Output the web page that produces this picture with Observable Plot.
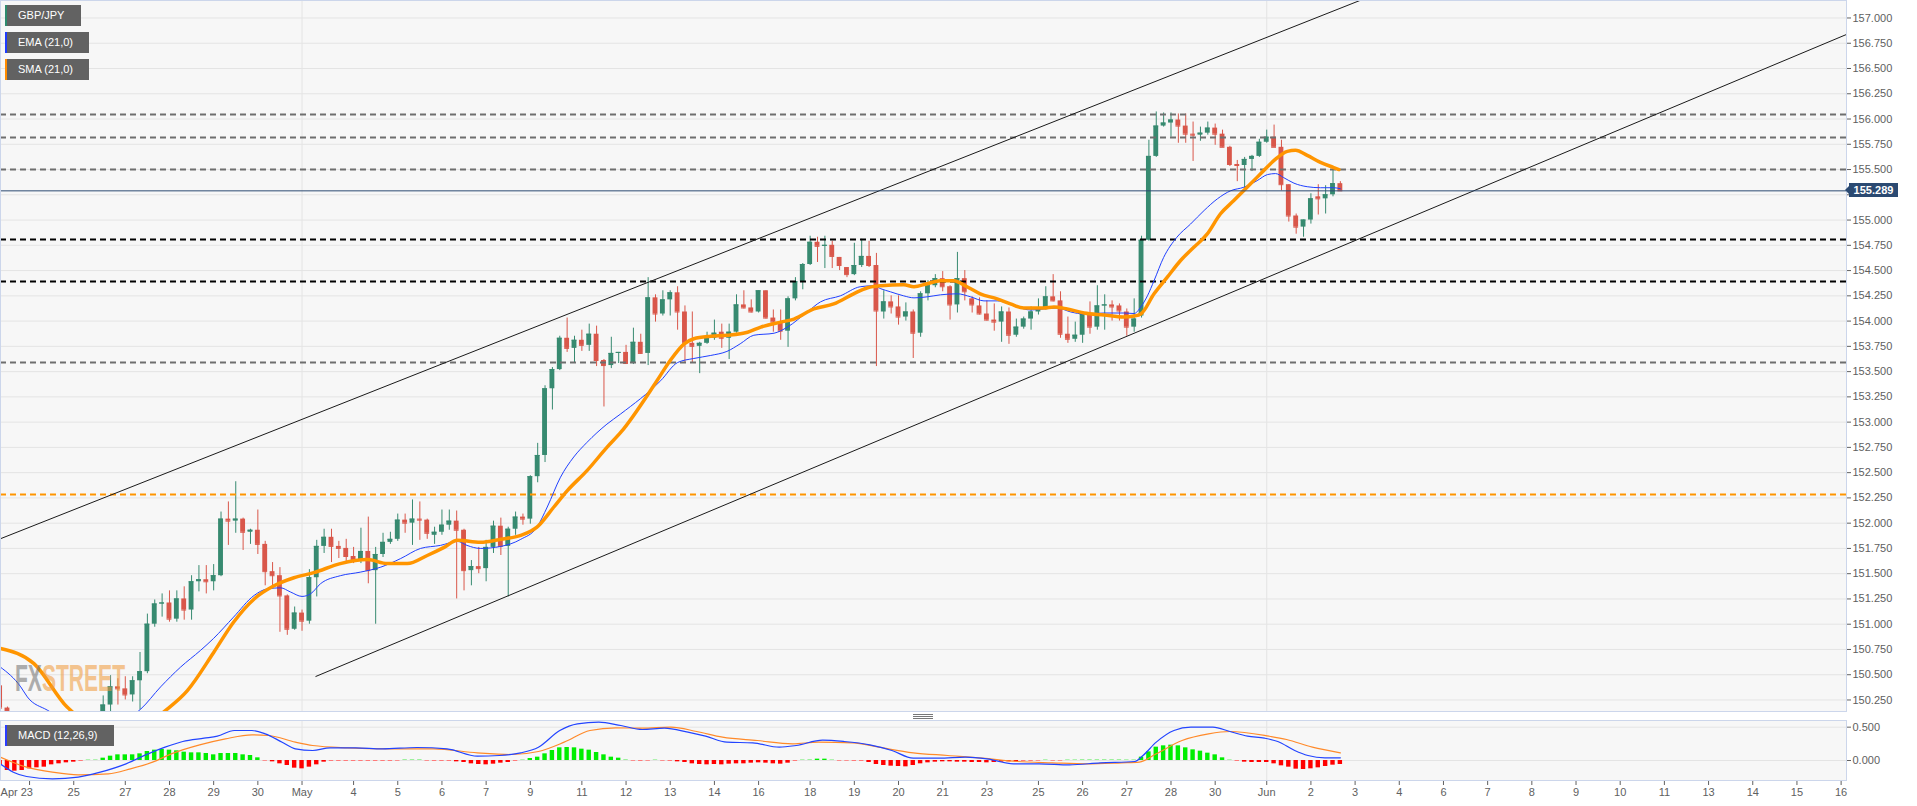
<!DOCTYPE html>
<html><head><meta charset="utf-8">
<script src="https://cdn.jsdelivr.net/npm/d3@7"></script>
<script src="https://cdn.jsdelivr.net/npm/@observablehq/plot@0.6"></script>
<style>
body{margin:0;background:#fff;font-family:"Liberation Sans",Arial,sans-serif}
#wrap{position:relative;width:1917px;height:806px;overflow:hidden;background:#fff}
.tag{position:absolute;height:21px;background:#626262;color:#fff;font-size:11px;line-height:21px;padding-left:11px;box-sizing:border-box;border-left:2px solid #000}
.ptag{position:absolute;left:1849px;width:49px;height:14px;background:#2b4a72;color:#fff;font-size:11px;font-weight:bold;line-height:14px;text-align:center}
.ptag:before{content:"";position:absolute;left:-4px;top:3px;border-top:4px solid transparent;border-bottom:4px solid transparent;border-right:4px solid #2b4a72}
.handle{position:absolute;left:913px;width:20px;height:1px;background:#777}
#wm{position:absolute;left:15px;top:661px;font:bold 36px "Liberation Sans",Arial,sans-serif;line-height:36px;white-space:nowrap;opacity:0.55;transform-origin:0 0}
</style></head><body><div id="wrap"></div>
<script>
// ---- Candles (4h bars, index 0..182) ----
const opens = [
150.39,150.17,150.00,149.85,149.75,149.85,149.78,149.70,149.80,149.95,
149.90,149.95,150.00,149.98,150.05,150.20,150.38,150.36,150.30,150.44,
150.53,151.00,151.20,151.21,151.05,151.25,151.14,151.42,151.44,151.42,
151.48,152.04,152.02,152.04,151.91,151.93,151.79,151.52,151.48,151.28,
150.95,151.11,151.03,151.46,151.77,151.86,151.77,151.75,151.67,151.64,
151.72,151.53,151.69,151.81,151.84,152.03,152.00,152.04,152.03,151.88,
151.91,151.98,152.02,151.93,151.53,151.57,151.55,151.76,151.97,151.77,
151.94,152.06,152.04,152.46,152.67,153.33,153.52,153.83,153.73,153.81,
153.76,153.87,153.61,153.56,153.68,153.69,153.58,153.79,153.68,154.23,
154.07,154.21,154.28,154.09,153.78,153.75,153.78,153.83,153.89,153.83,
153.89,154.16,154.13,154.09,154.30,154.03,153.99,153.90,154.22,154.39,
154.56,154.78,154.74,154.75,154.63,154.53,154.46,154.55,154.64,154.55,
154.09,154.19,154.14,154.04,154.09,153.88,154.27,154.35,154.42,154.34,
154.16,154.42,154.22,154.15,154.07,154.01,153.99,154.09,153.86,153.94,
154.02,154.09,154.12,154.24,154.20,153.87,153.82,153.86,154.07,153.94,
154.15,154.16,154.15,154.09,153.94,154.05,154.80,155.63,155.93,155.96,
155.99,155.93,155.85,155.84,155.86,155.91,155.85,155.72,155.55,155.54,
155.60,155.63,155.77,155.82,155.72,155.35,155.04,154.93,155.00,155.23,
155.21,155.25,155.36];
const highs = [
150.45,150.18,150.05,149.95,149.90,149.98,149.90,149.85,150.00,150.05,
150.00,150.08,150.10,150.10,150.29,150.49,150.46,150.48,150.48,150.72,
151.10,151.24,151.30,151.33,151.33,151.37,151.48,151.58,151.58,151.59,
152.11,152.21,152.41,152.05,151.94,152.13,151.82,151.61,151.56,151.29,
151.17,151.14,151.54,151.83,151.94,151.94,151.82,151.84,151.76,151.95,
152.06,151.76,151.90,151.91,152.09,152.09,152.23,152.21,152.04,151.96,
152.13,152.13,152.12,151.94,151.63,151.76,151.83,152.02,152.05,151.96,
152.11,152.09,152.47,152.79,153.36,153.54,153.85,154.03,153.85,153.91,
153.97,153.95,153.62,153.84,153.69,153.76,153.93,153.87,154.43,154.26,
154.30,154.30,154.34,154.15,154.09,153.79,153.89,154.01,153.97,153.97,
154.26,154.30,154.21,154.30,154.30,154.11,154.11,154.24,154.43,154.57,
154.84,154.83,154.84,154.79,154.63,154.53,154.77,154.81,154.79,154.67,
154.30,154.25,154.25,154.18,154.11,154.29,154.40,154.46,154.49,154.35,
154.68,154.50,154.24,154.23,154.20,154.17,154.14,154.13,154.02,154.04,
154.14,154.22,154.34,154.46,154.29,154.04,153.99,154.09,154.19,154.35,
154.26,154.20,154.17,154.12,154.22,154.84,155.79,156.07,156.06,156.06,
156.05,156.05,155.97,155.92,155.97,155.95,155.89,155.73,155.59,155.62,
155.64,155.80,155.89,155.94,155.79,155.35,155.06,155.00,155.26,155.35,
155.34,155.51,155.38];
const lows = [
150.10,149.90,149.80,149.70,149.65,149.70,149.60,149.60,149.75,149.85,
149.80,149.88,149.90,149.90,149.95,150.13,150.20,150.25,150.23,150.15,
150.51,150.97,151.07,151.02,151.02,151.04,151.04,151.32,151.30,151.33,
151.47,151.78,151.90,151.73,151.79,151.69,151.38,151.38,150.92,150.89,
150.94,150.93,151.00,151.27,151.70,151.61,151.65,151.61,151.60,151.60,
151.40,151.00,151.66,151.79,151.82,151.90,151.78,151.83,151.84,151.79,
151.88,151.93,151.25,151.33,151.38,151.50,151.42,151.70,151.68,151.27,
151.88,151.98,151.99,152.40,152.60,153.12,153.51,153.69,153.58,153.70,
153.70,153.55,153.15,153.53,153.58,153.57,153.57,153.67,153.56,153.99,
154.05,154.05,153.91,153.59,153.59,153.48,153.77,153.81,153.73,153.62,
153.88,154.12,154.08,154.08,154.02,153.89,153.81,153.74,154.20,154.31,
154.55,154.58,154.52,154.52,154.50,154.43,154.45,154.53,154.53,153.55,
154.02,154.07,153.96,154.00,153.63,153.84,154.20,154.33,154.29,154.01,
154.08,154.20,154.08,154.06,154.00,153.90,153.79,153.77,153.84,153.92,
153.91,154.06,154.11,154.19,153.83,153.78,153.79,153.78,153.87,153.91,
153.91,154.00,154.00,153.85,153.89,154.03,154.79,155.62,155.92,155.82,
155.76,155.76,155.58,155.78,155.84,155.74,155.72,155.53,155.38,155.29,
155.48,155.62,155.76,155.72,155.29,154.98,154.86,154.83,154.96,155.05,
155.06,155.23,155.29];
const closes = [
150.17,150.00,149.85,149.75,149.85,149.78,149.70,149.80,149.95,149.90,
149.95,150.00,149.98,150.05,150.20,150.38,150.36,150.30,150.44,150.53,
151.00,151.20,151.21,151.05,151.25,151.14,151.42,151.44,151.42,151.48,
152.04,152.02,152.04,151.91,151.93,151.79,151.52,151.48,151.28,150.95,
151.11,151.03,151.46,151.77,151.86,151.77,151.75,151.67,151.64,151.72,
151.53,151.69,151.81,151.84,152.03,152.00,152.04,152.03,151.90,151.91,
151.98,152.02,151.93,151.53,151.57,151.55,151.76,151.97,151.77,151.94,
152.06,152.04,152.46,152.67,153.33,153.52,153.83,153.73,153.81,153.76,
153.87,153.61,153.56,153.68,153.69,153.58,153.79,153.68,154.23,154.07,
154.21,154.28,154.09,153.78,153.75,153.78,153.83,153.88,153.83,153.89,
154.16,154.13,154.09,154.30,154.03,153.99,153.90,154.22,154.39,154.56,
154.78,154.74,154.75,154.64,154.55,154.46,154.55,154.64,154.55,154.10,
154.19,154.14,154.04,154.09,153.88,154.27,154.35,154.42,154.34,154.16,
154.42,154.29,154.16,154.07,154.01,153.99,154.09,153.86,153.94,154.02,
154.09,154.12,154.24,154.20,153.87,153.82,153.86,154.07,153.94,154.15,
154.16,154.14,154.10,153.94,154.02,154.80,155.63,155.93,155.96,155.99,
155.93,155.85,155.84,155.86,155.91,155.85,155.72,155.55,155.54,155.60,
155.63,155.77,155.82,155.72,155.35,155.04,154.93,155.00,155.21,155.21,
155.25,155.36,155.289];
const lastPrice = 155.289;

// ---- Indicators: [bar index, value] ----
const emaPoints = [[0.05,150.575],[2.8,150.38],[3.7,150.28],[6.4,150.15],[10,150.02],[14,149.98],[19.1,150.16],[21.8,150.38],[24.5,150.575],[27.2,150.74],[29.0,150.86],[31.7,151.07],[34.5,151.285],[36.3,151.35],[38.1,151.36],[39.4,151.32],[41.0,151.275],[42.15,151.30],[43.5,151.40],[46.2,151.48],[48.9,151.515],[51.7,151.565],[54.4,151.65],[57.1,151.75],[59.8,151.78],[62.1,151.82],[63.4,151.78],[65.2,151.75],[68.0,151.77],[70.7,151.84],[72.9,151.96],[74.3,152.16],[76.1,152.455],[77.9,152.655],[79.7,152.80],[82.4,152.98],[84.25,153.08],[89.7,153.41],[92.0,153.59],[94.2,153.63],[96.5,153.66],[98.7,153.70],[100.5,153.775],[102.35,153.86],[105.1,153.88],[106.9,153.94],[109.6,154.09],[111.4,154.19],[114.1,154.25],[116.8,154.34],[118.65,154.35],[119.6,154.32],[120.9,154.29],[122.7,154.25],[124.1,154.23],[125.9,154.24],[127.7,154.26],[130.0,154.27],[131.8,154.24],[133.6,154.20],[135.4,154.20],[138.1,154.14],[139.9,154.11],[141.7,154.12],[143.55,154.13],[145.4,154.09],[147.2,154.07],[149.9,154.08],[152.6,154.08],[154.0,154.075],[154.9,154.14],[155.8,154.25],[156.7,154.40],[158.0,154.63],[159.8,154.83],[161.65,154.96],[163.5,155.095],[165.3,155.21],[167.1,155.29],[168.9,155.325],[170.7,155.39],[172.1,155.45],[173.2,155.46],[174.3,155.42],[175.7,155.365],[177.5,155.33],[179.3,155.32],[181.1,155.32],[182.0,155.31]];
const smaPoints = [[0.05,150.76],[4.6,150.61],[9.1,150.18],[12,150.02],[16,149.95],[20,150.0],[22.2,150.13],[25.4,150.34],[29.0,150.72],[31.7,151.02],[34.5,151.25],[37.2,151.38],[39.9,151.46],[42.6,151.51],[46.2,151.60],[49.9,151.64],[52.6,151.60],[55.3,151.60],[58.0,151.68],[60.3,151.76],[62.1,151.83],[65.2,151.81],[68.0,151.84],[70.7,151.88],[72.9,151.96],[75.2,152.16],[77.0,152.32],[79.7,152.52],[82.4,152.75],[84.3,152.90],[89.2,153.41],[91.0,153.61],[92.9,153.775],[94.2,153.825],[96.5,153.85],[98.7,153.86],[101.5,153.89],[103.3,153.94],[106.0,153.99],[107.8,154.02],[110.5,154.12],[113.2,154.17],[115.9,154.27],[117.8,154.33],[119.6,154.35],[122.7,154.36],[124.1,154.34],[125.9,154.37],[127.7,154.40],[129.5,154.40],[131.3,154.34],[133.1,154.27],[135.4,154.22],[137.2,154.17],[139.0,154.13],[141.7,154.13],[143.1,154.14],[144.9,154.12],[147.2,154.08],[149.9,154.06],[152.6,154.04],[154.0,154.05],[154.9,154.07],[156.7,154.27],[158.5,154.435],[160.3,154.60],[162.1,154.73],[163.9,154.86],[165.7,155.06],[167.5,155.19],[169.4,155.33],[171.2,155.46],[173.0,155.59],[174.8,155.68],[175.9,155.69],[177.5,155.64],[179.3,155.57],[181.1,155.52],[181.8,155.50]];

// ---- Drawn levels and channel ----
const levelsGray = [156.045, 155.817, 155.50, 153.59];
const levelsBlack = [154.808, 154.392];
const levelsOrange = [152.284];
const channelUpper = [[0.054, 151.846], [250.73, 159.08]];
const channelLower = [[42.88, 150.483], [250.73, 156.837]];

// ---- MACD (12,26,9) ----
const macdPoints = [[0,-0.05],[1.8,-0.175],[3.6,-0.24],[7.1,-0.275],[10.6,-0.25],[13.6,-0.175],[17.1,-0.05],[20.1,0.1],[22.4,0.2],[24.8,0.285],[27.7,0.335],[29.5,0.365],[31.8,0.45],[34.2,0.45],[36.0,0.40],[38.3,0.275],[40.1,0.175],[42.45,0.15],[44.8,0.19],[48.3,0.19],[51.9,0.175],[56.6,0.195],[60.7,0.175],[64.8,0.065],[67.8,0.075],[70.7,0.115],[73.1,0.2],[76.0,0.45],[78.4,0.55],[81.3,0.575],[84.3,0.525],[87.2,0.465],[90.2,0.485],[93.4,0.425],[95.8,0.365],[98.7,0.275],[102.2,0.265],[105.8,0.2],[108.1,0.225],[111.7,0.305],[114.6,0.285],[118.1,0.235],[121.1,0.15],[124.0,0.035],[127.5,0.035],[131.1,0.05],[134.0,0.025],[137.6,-0.05],[141.1,-0.05],[145.2,-0.065],[149.4,-0.035],[154.1,-0.015],[155.2,0.075],[157.0,0.275],[159.4,0.45],[161.7,0.5],[164.7,0.5],[167.0,0.435],[169.4,0.365],[171.7,0.335],[173.5,0.285],[175.8,0.15],[177.6,0.075],[179.9,0.04],[182.0,0.04]];
const signalPoints = [[0,0.05],[3.6,-0.10],[7.1,-0.175],[10.6,-0.215],[14.7,-0.20],[17.7,-0.125],[20.7,-0.025],[23.6,0.115],[27.1,0.235],[30.6,0.325],[34.2,0.385],[36.5,0.375],[40.1,0.275],[42.45,0.225],[47.2,0.19],[53.0,0.175],[58.9,0.175],[64.8,0.115],[69.5,0.09],[73.1,0.135],[76.6,0.275],[80.1,0.45],[83.6,0.49],[87.2,0.485],[91.05,0.5],[94.6,0.435],[98.1,0.35],[102.8,0.3],[107.6,0.25],[111.1,0.275],[115.8,0.265],[119.3,0.2],[124.0,0.115],[128.7,0.075],[133.4,0.035],[138.1,-0.015],[142.9,-0.035],[147.6,-0.05],[152.3,-0.035],[154.7,-0.025],[157.0,0.1],[160.5,0.3],[164.1,0.4],[167.0,0.435],[172.3,0.365],[174.7,0.315],[178.2,0.2],[182.0,0.115]];
const histValues = [
-0.06,-0.15,-0.16,-0.15,-0.125,-0.11,-0.10,-0.065,-0.05,-0.035,
-0.025,-0.015,0.012,0.012,0.035,0.065,0.085,0.085,0.085,0.10,
0.135,0.155,0.165,0.155,0.145,0.125,0.115,0.115,0.105,0.085,
0.105,0.105,0.105,0.085,0.075,0.04,-0.012,-0.02,-0.05,-0.075,
-0.115,-0.125,-0.10,-0.065,-0.025,-0.015,-0.015,-0.015,-0.015,-0.015,
-0.015,-0.015,-0.015,-0.015,-0.012,0.015,0.015,0.015,-0.012,-0.015,
-0.015,-0.015,-0.02,-0.03,-0.05,-0.06,-0.065,-0.055,-0.04,-0.03,
-0.015,0.012,0.03,0.05,0.10,0.15,0.19,0.195,0.19,0.17,
0.155,0.12,0.085,0.05,0.035,0.015,-0.012,-0.015,-0.012,0.012,
-0.012,-0.015,-0.02,-0.03,-0.05,-0.06,-0.065,-0.06,-0.065,-0.055,
-0.05,-0.05,-0.04,-0.035,-0.04,-0.05,-0.055,-0.04,-0.015,0.012,
0.015,0.02,0.02,0.012,-0.012,-0.012,-0.015,-0.015,-0.03,-0.06,
-0.075,-0.085,-0.09,-0.095,-0.075,-0.05,-0.035,-0.025,-0.02,-0.02,
-0.025,-0.025,-0.03,-0.03,-0.035,-0.03,-0.025,-0.02,-0.02,-0.015,
-0.015,-0.012,0.012,-0.012,-0.012,0.012,0.012,0.015,0.015,0.015,
0.015,0.015,0.015,0.012,0.012,0.05,0.13,0.20,0.22,0.23,
0.22,0.19,0.16,0.14,0.11,0.085,0.04,0.012,-0.015,-0.025,
-0.03,-0.03,-0.03,-0.05,-0.08,-0.10,-0.13,-0.135,-0.125,-0.11,
-0.09,-0.07,-0.06];

// ---- Axes ----
const yTicks = [150.25,150.5,150.75,151,151.25,151.5,151.75,152,152.25,152.5,152.75,153,153.25,153.5,153.75,154,154.25,154.5,154.75,155,155.25,155.5,155.75,156,156.25,156.5,156.75,157];
const hiddenTickLabel = 155.25; // covered by the last-price tag
const macdTicks = [0, 0.5];
const xTickIdx = [4,10,17,23,29,35,41,48,54,60,66,72,79,85,91,97,103,110,116,122,128,134,141,147,153,159,165,172,178,184,190,196,202,208,214,220,226,232,238,244,250];
const xTickLabels = ["Apr 23","25","27","28","29","30","May","4","5","6","7","9","11","12","13","14","16","18","19","20","21","23","25","26","27","28","30","Jun","2","3","4","6","7","8","9","10","11","13","14","15","16"];
const monthStarts = [41, 172];

// ---- Build ----
const GREEN = "#378a70", RED = "#d9574a";
const candles = opens.map((o, i) => ({i, o, h: highs[i], l: lows[i], c: closes[i]}));
const ccol = d => d.c >= d.o ? GREEN : RED;
const hist = histValues.map((v, i) => ({i, v}));
const hcol = d => d.v >= 0 ? (d.v <= 0.015 ? "#9ef09e" : "#00ee00") : (d.v >= -0.015 ? "#ff7a7a" : "#ff0000");
const labelMap = new Map(xTickIdx.map((t, k) => [t, xTickLabels[k]]));
const xDomain = [0.054, 250.73];
const font = '"Liberation Sans", Arial, sans-serif';
const px = d => d[0], py = d => d[1];

const main = Plot.plot({
  width: 1917, height: 715,
  marginTop: 0, marginBottom: 4, marginLeft: 0, marginRight: 71,
  style: {fontFamily: font, fontSize: "11px", color: "#606060", background: "transparent", overflow: "visible"},
  x: {type: "linear", domain: xDomain, axis: null},
  y: {domain: [150.136, 157.173], axis: null},
  marks: [
    Plot.frame({fill: "#f7f7f7", stroke: null}),
    Plot.gridY(yTicks, {stroke: "#e4e4e4", strokeOpacity: 1}),
    Plot.gridX(monthStarts, {stroke: "#e4e4e4", strokeOpacity: 1}),
    Plot.axisY(yTicks, {anchor: "right", label: null, tickSize: 4, tickPadding: 2, tickFormat: d => d === hiddenTickLabel ? "" : d.toFixed(3), fontSize: 11}),
    Plot.ruleX(candles, {x: "i", y1: "l", y2: "h", stroke: ccol, strokeWidth: 1, clip: true}),
    Plot.rect(candles, {x1: d => d.i - 0.33, x2: d => d.i + 0.33, y1: "o", y2: "c", fill: ccol, clip: true}),
    Plot.ruleY(candles, {y: "c", x1: d => d.i - 0.33, x2: d => d.i + 0.33, stroke: ccol, strokeWidth: 1, clip: true}),
    Plot.ruleY(levelsGray, {stroke: "#6e6e6e", strokeWidth: 2, strokeDasharray: "6,4"}),
    Plot.ruleY(levelsBlack, {stroke: "#000", strokeWidth: 2, strokeDasharray: "6,4"}),
    Plot.ruleY(levelsOrange, {stroke: "#ff9500", strokeWidth: 2, strokeDasharray: "6,4"}),
    Plot.line(channelUpper, {x: px, y: py, stroke: "#1a1a1a", strokeWidth: 1, clip: true}),
    Plot.line(channelLower, {x: px, y: py, stroke: "#1a1a1a", strokeWidth: 1, clip: true}),
    Plot.line(emaPoints, {x: px, y: py, stroke: "#2040ff", strokeWidth: 1, curve: "monotone-x", clip: true}),
    Plot.line(smaPoints, {x: px, y: py, stroke: "#ff9500", strokeWidth: 3.5, curve: "monotone-x", clip: true}),
    Plot.ruleY([lastPrice], {stroke: "#2b4a72", strokeWidth: 1}),
    Plot.frame({stroke: "#ccd6eb", fill: null})
  ]
});

const macd = Plot.plot({
  width: 1917, height: 91,
  marginTop: 5, marginBottom: 26, marginLeft: 0, marginRight: 71,
  style: {fontFamily: font, fontSize: "11px", color: "#606060", background: "transparent", overflow: "visible"},
  x: {type: "linear", domain: xDomain, axis: null},
  y: {domain: [-0.3, 0.6], axis: null},
  marks: [
    Plot.frame({fill: "#f7f7f7", stroke: null}),
    Plot.gridY(macdTicks, {stroke: "#e4e4e4", strokeOpacity: 1}),
    Plot.gridX(monthStarts, {stroke: "#e4e4e4", strokeOpacity: 1}),
    Plot.axisY(macdTicks, {anchor: "right", label: null, tickSize: 4, tickPadding: 2, tickFormat: d => d.toFixed(3), fontSize: 11}),
    Plot.axisX(xTickIdx, {anchor: "bottom", label: null, tickSize: 5, tickPadding: 3, fontSize: 11, tickFormat: d => d === xTickIdx[0] ? "" : labelMap.get(d)}),
    Plot.text([xTickIdx[0]], {x: d => d, text: () => xTickLabels[0], frameAnchor: "bottom", textAnchor: "start", lineAnchor: "top", dx: -29, dy: 8, fontSize: 11, fill: "#606060"}),
    Plot.rect(hist, {x1: d => d.i - 0.3, x2: d => d.i + 0.3, y1: 0, y2: "v", fill: hcol, clip: true}),
    Plot.line(signalPoints, {x: px, y: py, stroke: "#ff8a2a", strokeWidth: 1.2, curve: "monotone-x", clip: true}),
    Plot.line(macdPoints, {x: px, y: py, stroke: "#2244ff", strokeWidth: 1.2, curve: "monotone-x", clip: true}),
    Plot.frame({stroke: "#ccd6eb", fill: null})
  ]
});

const wrap = document.getElementById("wrap");
main.style.position = "absolute"; main.style.top = "0px"; main.style.left = "0px";
macd.style.position = "absolute"; macd.style.top = "715px"; macd.style.left = "0px";
wrap.appendChild(main);
wrap.appendChild(macd);

// watermark: one text run, horizontally condensed with a transform
const wm = document.createElement("div");
wm.id = "wm";
wm.innerHTML = '<span style="color:#6f6f6f">FX</span><span style="color:#f09a3a">STREET</span>';
wrap.appendChild(wm);
const natural = wm.getBoundingClientRect().width || 188;
wm.style.transform = `scaleX(${110 / natural})`;

// legend tags
const tags = [["GBP/JPY", "#2e8b6e", 5, 76], ["EMA (21,0)", "#1f3cff", 32, 84], ["SMA (21,0)", "#ff8c00", 59, 84], ["MACD (12,26,9)", "#2a3cff", 725, 109]];
tags.forEach(([t, c, top, w]) => {
  const d = document.createElement("div");
  d.className = "tag"; d.textContent = t;
  d.style.top = top + "px"; d.style.left = "5px"; d.style.width = w + "px"; d.style.borderLeftColor = c;
  wrap.appendChild(d);
});

// price tag
const yPx = main.scale("y").apply(lastPrice);
const pt = document.createElement("div");
pt.className = "ptag"; pt.textContent = lastPrice.toFixed(3);
pt.style.top = (yPx - 7) + "px";
wrap.appendChild(pt);

// panel resize handle
[714, 716, 718].forEach(t => { const h = document.createElement("div"); h.className = "handle"; h.style.top = t + "px"; wrap.appendChild(h); });
</script></body></html>
